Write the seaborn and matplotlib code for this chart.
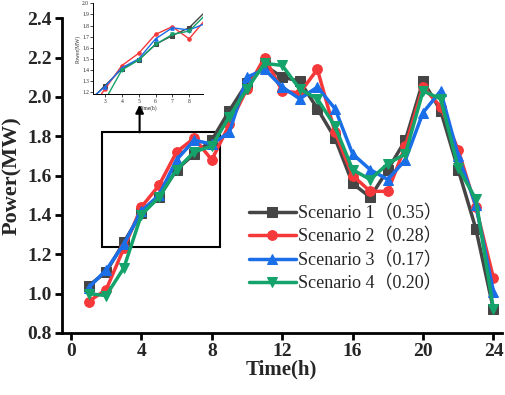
import seaborn as sns
import matplotlib.pyplot as plt
import matplotlib.patches as patches
import numpy as np

sns.set_theme(style="ticks")
plt.rcParams['font.family'] = ['Liberation Serif', 'Noto Sans CJK SC']

hours = list(range(1, 25))
s1 = [1.04, 1.11, 1.26, 1.41, 1.49, 1.63, 1.71, 1.78, 1.93, 2.07, 2.16, 2.10,
      2.08, 1.94, 1.79, 1.56, 1.49, 1.63, 1.78, 2.08, 1.93, 1.63, 1.33, 0.92]
s2 = [0.96, 1.02, 1.23, 1.44, 1.55, 1.72, 1.79, 1.68, 1.86, 2.04, 2.20, 2.03,
      2.02, 2.14, 1.82, 1.60, 1.52, 1.52, 1.75, 2.05, 1.95, 1.73, 1.44, 1.08]
s3 = [1.03, 1.12, 1.25, 1.42, 1.50, 1.68, 1.78, 1.76, 1.82, 2.10, 2.14, 2.05,
      1.99, 2.05, 1.94, 1.71, 1.63, 1.58, 1.68, 1.92, 2.03, 1.70, 1.45, 1.01]
s4 = [1.00, 0.99, 1.13, 1.40, 1.49, 1.63, 1.72, 1.75, 1.90, 2.04, 2.17, 2.16,
      2.04, 1.99, 1.85, 1.63, 1.58, 1.66, 1.71, 2.03, 1.99, 1.64, 1.48, 0.92]
labels = ["Scenario 1（0.35）", "Scenario 2（0.28）", "Scenario 3（0.17）", "Scenario 4（0.20）"]
series = [s1, s2, s3, s4]
colors = ["#454545", "#f5383a", "#1a6ee8", "#14a36a"]
markers = ["s", "o", "^", "v"]

fig = plt.figure(figsize=(5.05, 3.95), dpi=100)
ax = fig.add_axes([0.122, 0.157, 0.8715, 0.797])

for vals, lab, c, m in zip(series, labels, colors, markers):
    sns.lineplot(x=hours, y=vals, ax=ax, color=c, marker=m, markersize=7,
                 markeredgecolor=c, lw=2.5, label=lab)

ax.set_xlim(-0.53, 24.47)
ax.set_ylim(0.8, 2.4)
ax.set_xticks(range(0, 25, 4))
ax.set_yticks(np.arange(0.8, 2.41, 0.2))
ax.set_yticklabels([f"{v:.1f}" for v in np.arange(0.8, 2.41, 0.2)])
for lab in ax.get_xticklabels() + ax.get_yticklabels():
    lab.set_fontweight("bold")
    lab.set_fontsize(14)
ax.tick_params(width=2, length=5, color="black", pad=2)
ax.set_xlabel("Time(h)", fontsize=15, fontweight="bold", labelpad=0)
ax.set_ylabel("Power(MW)", fontsize=16, fontweight="bold", labelpad=4)
sns.despine(ax=ax)
for sp in ["left", "bottom"]:
    ax.spines[sp].set_linewidth(2)
    ax.spines[sp].set_color("black")

ax.legend(loc="upper left", bbox_to_anchor=(0.405, 0.436), frameon=False,
          fontsize=13, handlelength=2.6, handletextpad=0.1,
          labelspacing=0.35, borderpad=0)

# zoom box and arrow
ax.add_patch(patches.Rectangle((1.75, 1.236), 6.72, 0.584, fill=False,
                               lw=1.5, edgecolor="black"))
ax.annotate("", xy=(3.9, 1.96), xytext=(3.9, 1.82),
            arrowprops=dict(arrowstyle="-|>", color="black", lw=1.5,
                            mutation_scale=12, shrinkA=0, shrinkB=0))

# inset
axin = fig.add_axes([0.1848, 0.761, 0.218, 0.2306])
axin.set_facecolor((0, 0, 0, 0))
for vals, c, m in zip(series, colors, markers):
    sns.lineplot(x=hours, y=vals, ax=axin, color=c, marker=m, markersize=2.5,
                 markeredgecolor=c, lw=1)
axin.set_xlim(2.3, 8.85)
axin.set_ylim(1.18, 2.0)
axin.set_xticks(range(3, 9))
axin.set_yticks(np.arange(1.2, 2.01, 0.1))
axin.set_yticklabels([f"{v:.1f}" for v in np.arange(1.2, 2.01, 0.1)])
axin.tick_params(labelsize=4, width=0.6, length=2, pad=1)
axin.set_xlabel("Time(h)", fontsize=4, labelpad=1)
axin.set_ylabel("Power(MW)", fontsize=4, labelpad=1)
sns.despine(ax=axin)
for sp in ["left", "bottom"]:
    axin.spines[sp].set_linewidth(0.7)
    axin.spines[sp].set_color("black")

fig.savefig("out.png", dpi=100)
